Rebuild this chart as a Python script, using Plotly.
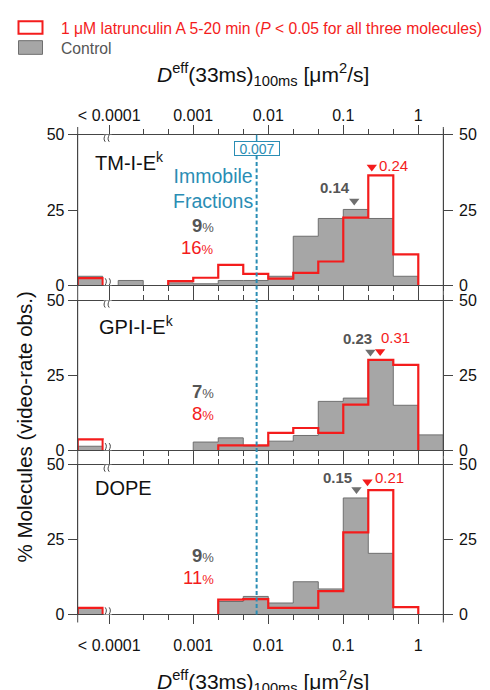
import math
import plotly.graph_objects as go

W, H = 490, 690

# ---- data -------------------------------------------------------------
# lower edges of the third-of-a-decade bins, as log10(D [um^2/s])
bin_lo = [-4, -11/3, -10/3, -3, -8/3, -7/3, -2, -5/3, -4/3, -1, -2/3, -1/3, 0]
BW = 1/3
low_lo = -4.54          # axis slot that holds the "< 0.0001" bin

molecules = ["TM-I-E<sup>k</sup>", "GPI-I-E<sup>k</sup>", "DOPE"]

# % molecules in the "< 0.0001" bin
ctrl_below = [3.0, 1.3, 2.0]
latA_below = [2.4, 3.6, 2.2]

# % molecules per bin (bin_lo order)
ctrl_hist = [
    [1.6, 0, 0.8, 0.5, 1.6, 1.6, 3.0, 16.3, 22.2, 25.2, 22.2, 3.0, 0],
    [0, 0, 0, 2.7, 4.1, 1.4, 3.0, 4.9, 16.3, 17.4, 30.0, 15.0, 5.1],
    [0, 0, 0, 0, 4.3, 6.0, 3.8, 10.9, 8.5, 38.9, 20.4, 0, 0],
]
latA_hist = [
    [0, 0, 1.4, 2.5, 6.8, 3.8, 2.2, 4.1, 7.9, 22.5, 36.5, 10.3, 0],
    [0, 0, 0, 0, 1.6, 1.6, 5.8, 7.4, 5.8, 15.2, 30.2, 28.5, 0],
    [0, 0, 0, 0, 4.9, 5.1, 2.2, 2.2, 7.8, 27.4, 41.5, 2.4, 0],
]

ctrl_median = [0.14, 0.23, 0.15]
latA_median = [0.24, 0.31, 0.21]
ctrl_immobile = [9, 7, 9]
latA_immobile = [16, 8, 11]
immobile_cut = 0.007

BREAK_X = -4.12         # where the axis is broken between "< 0.0001" and the log scale
tick_major = [BREAK_X, -3, -2, -1, 0]
tick_major_text = ["&lt; 0.0001", "0.001", "0.01", "0.1", "1"]
tick_minor = [-11/3, -10/3, -8/3, -7/3, -5/3, -4/3, -2/3, -1/3, 1/3]
y_ticks = [0, 25, 50]

# ---- styles -----------------------------------------------------------
RED = "#f41c1c"
GRAY_FILL = "#a6a6a6"
GRAY_EDGE = "#6f6f6f"
GRAY_TXT = "#555555"
TEAL = "#2a8db4"
AX = "#454545"
TXT = "#111111"
FONT = "Liberation Sans"

X_DOM = [77.7 / W, 443.3 / W]
Y_DOMS = [[1 - 284.3 / H, 1 - 130 / H],
          [1 - 453.3 / H, 1 - 300 / H],
          [1 - 621.7 / H, 1 - 468.3 / H]]
X_RANGE = [low_lo, 1 / 3]


def px(x):
    return x / W


def py(y):
    return 1 - y / H


def step_path(lo, vals, w):
    """Outline of a step histogram, one closed run per block of non-empty bins."""
    xs, ys = [], []
    n = len(vals)
    i = 0
    while i < n:
        if vals[i] <= 0:
            i += 1
            continue
        xs.append(lo[i]); ys.append(0)
        j = i
        while j < n and vals[j] > 0:
            xs += [lo[j], lo[j] + w]
            ys += [vals[j], vals[j]]
            j += 1
        xs.append(lo[j - 1] + w); ys.append(0)
        xs.append(None); ys.append(None)
        i = j
    return xs, ys


def peak_under(med, hist, half=0.055):
    """Tallest bar under a median marker."""
    u = math.log10(med)
    best = 0
    for lo, v in zip(bin_lo, hist):
        if lo < u + half and lo + BW > u - half:
            best = max(best, v)
    return best


def text(x, y, s, size, color=TXT, xanchor="center", **kw):
    d = dict(x=x, y=y, xref="paper", yref="paper", text=s, showarrow=False,
             xanchor=xanchor, yanchor="middle",
             font=dict(family=FONT, size=size, color=color))
    d.update(kw)
    return d


fig = go.Figure()
shapes, annos = [], []

# per-panel offsets of the median labels (px)
ctrl_lbl_shift = [(-2, 14), (4, 13.5), (-2.5, 12)]
latA_lbl_shift = [(5, 1.5), (-1, 13.5), (6, 4.5)]
name_pos = [(93, 157.5), (97, 325.5), (93, 492.5)]
pct_top = [223.5, 393.5, 561]

BREAK_L = "M -4,-7 C -8,-2 0,2 -4,7"
BREAK_R = "M 0,-7 C -4,-2 4,2 0,7"

for i in range(3):
    xa = "x" if i == 0 else f"x{i + 1}"
    ya = "y" if i == 0 else f"y{i + 1}"

    # control: filled grey histogram
    gx, gy = step_path([low_lo], [ctrl_below[i]], BW)
    hx, hy = step_path(bin_lo, ctrl_hist[i], BW)
    fig.add_trace(go.Scatter(
        x=gx + hx, y=gy + hy, mode="lines", fill="toself",
        fillcolor=GRAY_FILL, line=dict(color=GRAY_EDGE, width=1),
        xaxis=xa, yaxis=ya, showlegend=False, hoverinfo="skip"))

    # latrunculin A: red outline
    rx, ry = step_path([low_lo], [latA_below[i]], BW)
    sx, sy = step_path(bin_lo, latA_hist[i], BW)
    fig.add_trace(go.Scatter(
        x=rx + sx, y=ry + sy, mode="lines",
        line=dict(color=RED, width=2.2),
        xaxis=xa, yaxis=ya, showlegend=False, hoverinfo="skip"))

    # median markers
    for med, hist, col, shift, bold in (
            (ctrl_median[i], ctrl_hist[i], GRAY_EDGE, ctrl_lbl_shift[i], True),
            (latA_median[i], latA_hist[i], RED, latA_lbl_shift[i], False)):
        my = peak_under(med, hist) + 2.8
        fig.add_trace(go.Scatter(
            x=[math.log10(med)], y=[my], mode="markers",
            marker=dict(symbol="triangle-down", size=9, color=col, line=dict(width=0)),
            xaxis=xa, yaxis=ya, showlegend=False, hoverinfo="skip"))
        txt = f"<b>{med:g}</b>" if bold else f"{med:g}"
        annos.append(dict(
            x=math.log10(med), y=my, xref=xa, yref=ya,
            xanchor="right" if bold else "left", yanchor="middle",
            xshift=shift[0], yshift=shift[1], showarrow=False, text=txt,
            font=dict(family=FONT, size=15, color=GRAY_TXT if bold else RED)))

    # panel name
    annos.append(text(px(name_pos[i][0]), py(name_pos[i][1]), molecules[i], 20,
                      xanchor="left"))

    # immobile fractions
    for k, (val, col, bold) in enumerate(((ctrl_immobile[i], GRAY_TXT, True),
                                          (latA_immobile[i], RED, False))):
        num = f"<b>{val}</b>" if bold else f"{val}"
        pct = "<span style='font-size:13px'>%</span>"
        annos.append(text(px(216), py(pct_top[i] + 22.5 * k), num + pct, 18.5,
                          color=col, xanchor="right"))

    # right-hand tick labels
    for t in y_ticks:
        annos.append(dict(
            x=px(457), y=t, xref="paper", yref=ya, text=str(t), showarrow=False,
            xanchor="left", yanchor="middle",
            font=dict(family=FONT, size=16, color=TXT)))

    # axis breaks on the top and bottom lines of the panel
    for yb in (0, 50):
        shapes.append(dict(
            type="path", xref=xa, yref=ya, xsizemode="pixel", ysizemode="pixel",
            xanchor=BREAK_X, yanchor=yb,
            path="M -5.5,-10.5 L 2.5,-10.5 L 2.5,10.5 L -5.5,10.5 Z",
            fillcolor="white", line=dict(width=0), layer="above"))
        shapes.append(dict(
            type="path", xref=xa, yref=ya, xsizemode="pixel", ysizemode="pixel",
            xanchor=BREAK_X, yanchor=yb, path=BREAK_L + " " + BREAK_R,
            line=dict(color=AX, width=1), layer="above"))

    # axes
    fig.update_layout({
        ("xaxis" if i == 0 else f"xaxis{i + 1}"): dict(
            domain=X_DOM, range=X_RANGE, anchor=ya,
            side="top" if i == 0 else "bottom",
            tickmode="array", tickvals=tick_major, ticktext=tick_major_text,
            showticklabels=(i != 1), ticklabelstandoff=(-3 if i == 0 else 7),
            ticks="outside", ticklen=9, tickwidth=1, tickcolor=AX,
            minor=dict(tickmode="array", tickvals=tick_minor, ticks="outside",
                       ticklen=5, tickwidth=1, tickcolor=AX),
            showline=True, linecolor=AX, linewidth=1, mirror="ticks",
            showgrid=False, zeroline=False, fixedrange=True,
            tickfont=dict(family=FONT, size=16, color=TXT)),
        ("yaxis" if i == 0 else f"yaxis{i + 1}"): dict(
            domain=Y_DOMS[i], range=[0, 50], anchor=xa,
            tickmode="array", tickvals=y_ticks,
            ticks="outside", ticklen=9, tickwidth=1, tickcolor=AX,
            showline=True, linecolor=AX, linewidth=1, mirror="ticks",
            showgrid=False, zeroline=False, fixedrange=True,
            tickfont=dict(family=FONT, size=16, color=TXT)),
    })

# outer frame verticals running through all three panels
for xv in X_DOM:
    shapes.append(dict(type="line", xref="paper", yref="paper",
                       x0=xv, x1=xv, y0=py(630), y1=py(122),
                       line=dict(color=AX, width=1), layer="above"))

# immobile-fraction threshold
x_cut = math.log10(immobile_cut)
shapes.append(dict(type="line", xref="x", yref="paper", x0=x_cut, x1=x_cut,
                   y0=py(621.7), y1=py(151), layer="above",
                   line=dict(color=TEAL, width=2, dash="4px,2.5px")))
shapes.append(dict(type="line", xref="x", yref="paper", x0=x_cut, x1=x_cut,
                   y0=py(137), y1=py(130), layer="above",
                   line=dict(color=TEAL, width=1.5)))
annos.append(dict(x=x_cut, y=py(144), xref="x", yref="paper", text=f"{immobile_cut:g}",
                  showarrow=False, width=44, height=13, borderpad=0,
                  xanchor="center", yanchor="middle",
                  bordercolor=TEAL, borderwidth=1, bgcolor="white",
                  font=dict(family=FONT, size=14, color=TEAL)))
annos.append(text(px(213), py(185.5), "Immobile<br>Fractions", 19.5, color=TEAL))

# axis titles
xtitle = "<i>D</i><sup>eff</sup>(33ms)<sub>100ms</sub> [μm<sup>2</sup>/s]"
annos.append(text(px(263), py(68), xtitle, 21))
annos.append(text(px(263), py(690), xtitle, 21))
annos.append(text(px(24), py(430), "% Molecules (video-rate obs.)", 20.5,
                  textangle=-90))

# legend
shapes.append(dict(type="rect", xref="paper", yref="paper",
                   x0=px(18.5), x1=px(42.5), y0=py(26.5), y1=py(13.5),
                   line=dict(color=RED, width=2), fillcolor="white"))
shapes.append(dict(type="rect", xref="paper", yref="paper",
                   x0=px(18.5), x1=px(42.5), y0=py(47.5), y1=py(33.5),
                   line=dict(color=GRAY_EDGE, width=1), fillcolor=GRAY_FILL))
annos.append(text(px(59), py(21.5), "1 μM latrunculin A 5-20 min (<i>P</i> &lt; 0.05 for all three molecules)",
                  15.7, color=RED, xanchor="left"))
annos.append(text(px(59), py(42), "Control", 15.7, color=GRAY_TXT, xanchor="left"))

fig.update_layout(
    width=W, height=H, margin=dict(l=0, r=0, t=0, b=0),
    paper_bgcolor="white", plot_bgcolor="white",
    showlegend=False, shapes=shapes, annotations=annos,
    font=dict(family=FONT),
)

fig.write_html("out.html")
